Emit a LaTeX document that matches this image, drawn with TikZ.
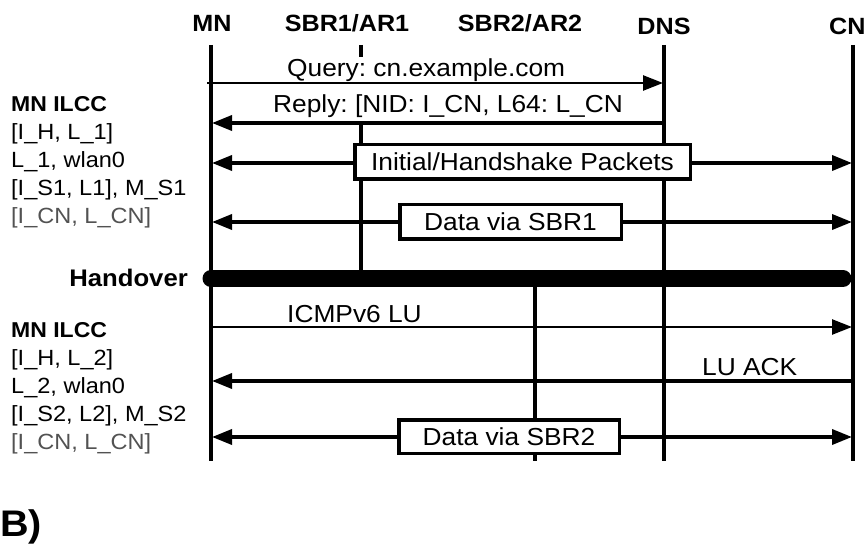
\documentclass[tikz,border=0pt]{standalone}
\usepackage{fontspec}
\setmainfont{Liberation Sans}[FakeStretch=1.07]
\usetikzlibrary{arrows.meta}
\frenchspacing
\begin{document}
\begin{tikzpicture}[x=1pt,y=-1pt,
  life/.style={line width=4pt},
  msg/.style={line width=3.5pt},
  thinmsg/.style={line width=2.5pt},
  >={Triangle[length=20pt,width=15pt]},
  hdr/.style={font=\fontsize{23.5}{28}\selectfont\bfseries, anchor=base, inner sep=0pt},
  lbl/.style={font=\fontsize{24.6}{28}\selectfont, anchor=base west, inner sep=0pt},
  side/.style={font=\fontsize{22}{26}\selectfont, anchor=base west, inner sep=0pt},
  sidebold/.style={font=\fontsize{21.5}{26}\selectfont\bfseries, anchor=base west, inner sep=0pt},
  sidelight/.style={side, text=black!68},
  pbox/.style={draw, line width=3.5pt, fill=white, font=\fontsize{24.6}{28}\selectfont, inner sep=0pt}
]
\useasboundingbox (0,0) rectangle (864,545);

% headers
\node[hdr] (hMN) at (212,32) {MN};
\node[hdr] (hS1) at (347,32) {SBR1/AR1};
\node[hdr] (hS2) at (520,32) {SBR2/AR2};
\node[hdr] (hDNS) at (664,35) {DNS};
\node[hdr, anchor=base west] (hCN) at (829,35) {CN};

% lifeline coordinates
\coordinate (MNt) at (211,45);   \coordinate (MNb) at (211,461);
\coordinate (S1t) at (361,45);   \coordinate (S1a) at (361,57);
\coordinate (S1c) at (361,125);  \coordinate (S1b) at (361,278);
\coordinate (S2t) at (535,278);  \coordinate (S2b) at (535,461);
\coordinate (DNSt) at (664,45);  \coordinate (DNSb) at (664,461);
\coordinate (CNt) at (853,45);   \coordinate (CNb) at (853,461);

\draw[life] (MNt) -- (MNb);
\draw[life] (S1t) -- (S1a);
\draw[life] (S1c) -- (S1b);
\draw[life] (S2t) -- (S2b);
\draw[life] (DNSt) -- (DNSb);
\draw[life] (CNt) -- (CNb);

% handover bar
\coordinate (hoL) at (211,278.5);
\coordinate (hoR) at (843,278.5);
\draw[line width=17pt, line cap=round] (hoL) -- (hoR);
\node[font=\fontsize{24}{28}\selectfont\bfseries, anchor=base east, inner sep=0pt] (ho) at (188,287) {Handover};

% message endpoints
\coordinate (qS) at (207,83);    \coordinate (qE) at (663,83);
\coordinate (rS) at (665,123);   \coordinate (rE) at (212,123);
\coordinate (iS) at (212,163);   \coordinate (iE) at (852,163);
\coordinate (d1S) at (212,222);  \coordinate (d1E) at (852,222);
\coordinate (luS) at (211,327);  \coordinate (luE) at (852,327);
\coordinate (laS) at (853,381);  \coordinate (laE) at (212,381);
\coordinate (d2S) at (212,437);  \coordinate (d2E) at (852,437);

\draw[thinmsg,->] (qS) -- (qE);
\node[lbl] (qT) at (287,77) {Query: cn.example.com};
\draw[msg,->] (rS) -- (rE);
\node[lbl] (rT) at (273,113) {Reply: [NID: I\_CN, L64: L\_CN};

\draw[msg,<->] (iS) -- (iE);
\node[pbox, minimum width=335.5pt, minimum height=34.5pt] (iB) at (522.5,162) {Initial/Handshake Packets};
\draw[msg,<->] (d1S) -- (d1E);
\node[pbox, minimum width=221.5pt, minimum height=34.5pt] (d1B) at (510.5,222) {Data via SBR1};

\draw[thinmsg,->] (luS) -- (luE);
\node[lbl] (luT) at (287,322) {ICMPv6 LU};
\draw[msg,->] (laS) -- (laE);
\node[lbl] (laT) at (702,375) {LU ACK};
\draw[msg,<->] (d2S) -- (d2E);
\node[pbox, minimum width=220.5pt, minimum height=33.5pt] (d2B) at (509,436.5) {Data via SBR2};

% side labels, before handover
\node[sidebold] (a1) at (11,112) {MN ILCC};
\node[side] (a2) at (11,140) {[I\_H, L\_1]};
\node[side] (a3) at (11,168) {L\_1, wlan0};
\node[side] (a4) at (11,196) {[I\_S1, L1], M\_S1};
\node[sidelight] (a5) at (11,224) {[I\_CN, L\_CN]};

% side labels, after handover
\node[sidebold] (b1) at (11,337) {MN ILCC};
\node[side] (b2) at (11,365) {[I\_H, L\_2]};
\node[side] (b3) at (11,393) {L\_2, wlan0};
\node[side] (b4) at (11,421) {[I\_S2, L2], M\_S2};
\node[sidelight] (b5) at (11,449) {[I\_CN, L\_CN]};

\node[font=\fontsize{37}{40}\selectfont\bfseries, anchor=base west, inner sep=0pt] (lab) at (0,536) {B)};
\end{tikzpicture}
\end{document}
